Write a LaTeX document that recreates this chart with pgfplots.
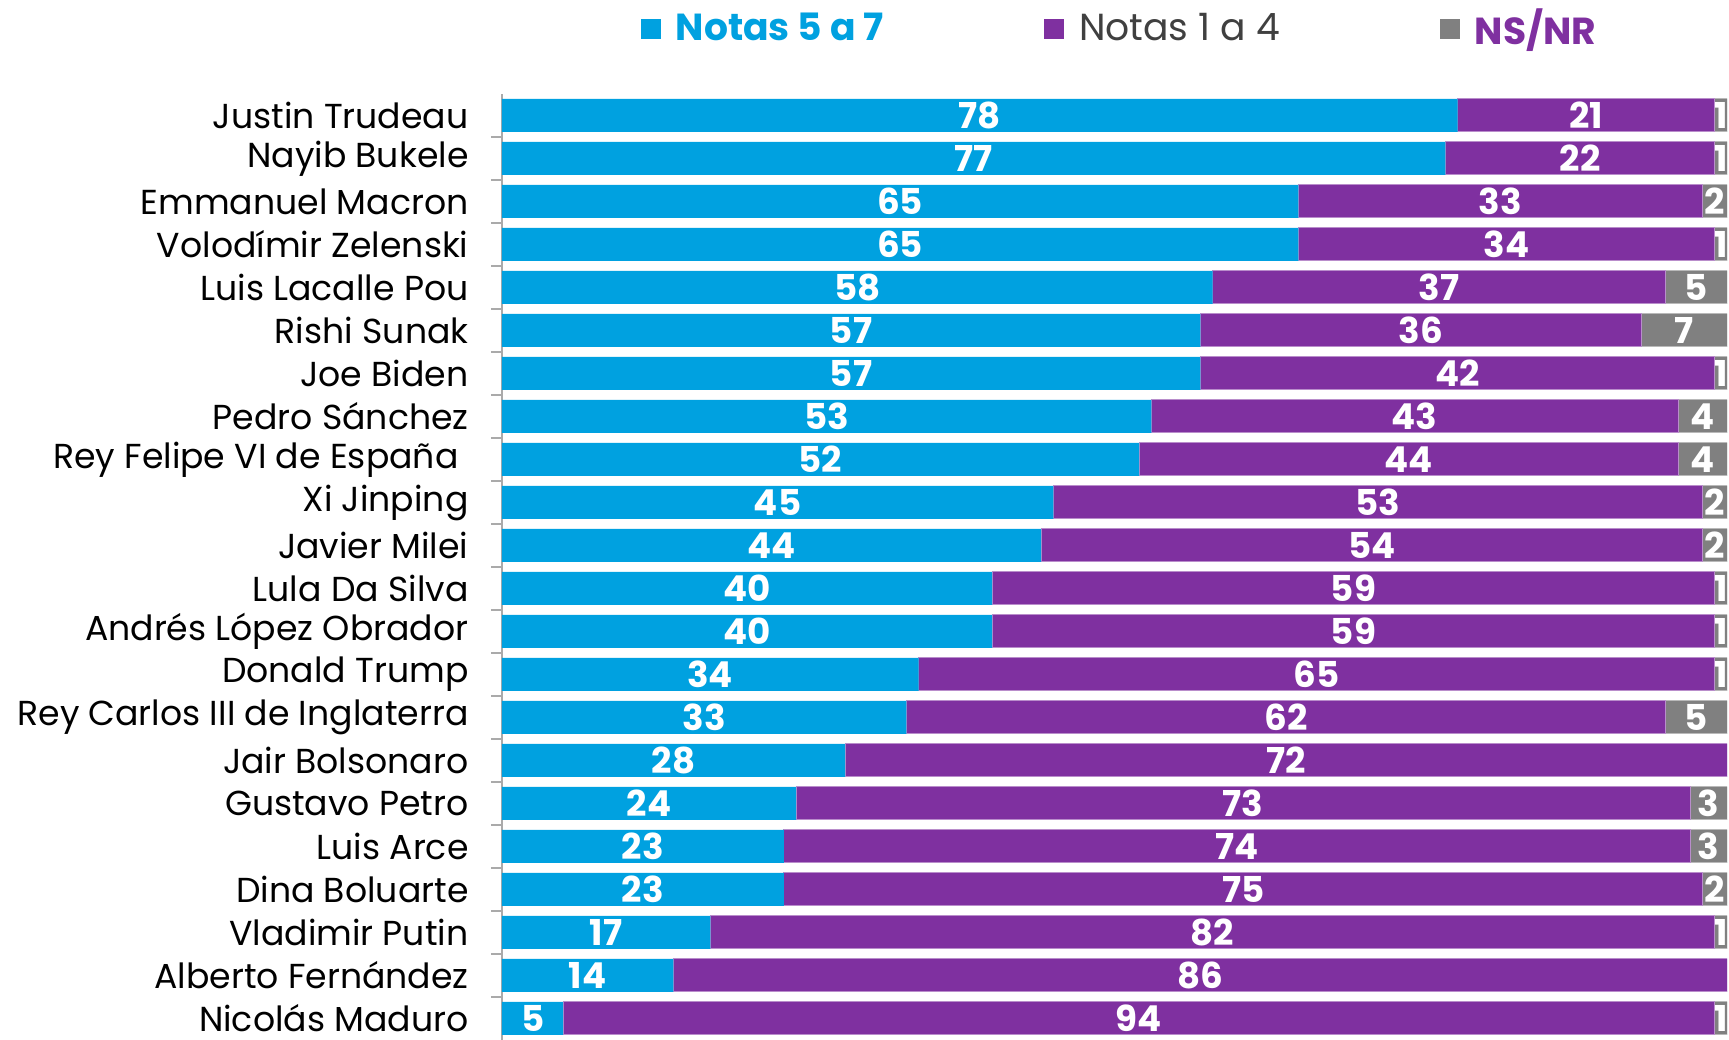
\documentclass[border=0pt]{standalone}
\usepackage{pgfplots}
\pgfplotsset{compat=1.18}
\usepackage{pgfplotstable}
\usepackage{fontspec}
\setmainfont{Poppins}
\definecolor{cblue}{RGB}{0,161,224}
\definecolor{cpurple}{RGB}{127,48,160}
\definecolor{cgray}{RGB}{128,128,128}
\definecolor{caxis}{RGB}{170,170,170}
\definecolor{ctext}{RGB}{64,64,64}

% i = row, a = Notas 5 a 7, b = Notas 1 a 4, c = NS/NR
\pgfplotstableread{
i a b c
0 78 21 1
1 77 22 1
2 65 33 2
3 65 34 1
4 58 37 5
5 57 36 7
6 57 42 1
7 53 43 4
8 52 44 4
9 45 53 2
10 44 54 2
11 40 59 1
12 40 59 1
13 34 65 1
14 33 62 5
15 28 72 0
16 24 73 3
17 23 74 3
18 23 75 2
19 17 82 1
20 14 86 0
21 5 94 1
}\notas

\begin{document}
\begin{tikzpicture}
\begin{axis}[
name=ax,
scale only axis,
width=367.5pt, height=283.8pt,
xbar stacked, bar width=9.9pt,
xmin=0, xmax=100, ymin=-0.5, ymax=21.5,
y dir=reverse,
axis x line=none,
axis y line*=left,
axis line style={caxis, line width=0.6pt},
ytick={0,...,21},
yticklabels={Justin Trudeau, Nayib Bukele, Emmanuel Macron, Volodímir Zelenski,
  Luis Lacalle Pou, Rishi Sunak, Joe Biden, Pedro Sánchez,
  Rey Felipe VI de España\rule{3pt}{0pt},
  Xi Jinping, Javier Milei, Lula Da Silva, Andrés López Obrador, Donald Trump,
  Rey Carlos III de Inglaterra, Jair Bolsonaro, Gustavo Petro, Luis Arce,
  Dina Boluarte, Vladimir Putin, Alberto Fernández, Nicolás Maduro},
major tick length=0pt,
extra y ticks={0.5,1.5,...,20.5},
extra y tick labels={},
extra y tick style={major tick length=3.3pt, tick align=outside,
  tick style={caxis, line width=0.6pt}},
tick label style={font=\fontsize{10.4}{13}\selectfont},
yticklabel style={xshift=-6.5pt},
/pgf/number format/assume math mode=true,
point meta=explicit,
nodes near coords={\pgfmathfloatifflags{\pgfplotspointmeta}{0}{}{\pgfmathprintnumber{\pgfplotspointmeta}}},
every node near coord/.append style={font=\fontsize{10.7}{13}\selectfont\bfseries,
  text=white, anchor=center},
legend style={at={(0.506,1)}, anchor=center, yshift=19.4pt, draw=none,
  legend columns=3, font=\fontsize{11.3}{13}\selectfont,
  /tikz/every even column/.append style={column sep=46pt},
  /tikz/every odd column/.append style={column sep=2.5pt}},
legend image code/.code={\fill[#1,draw=none] (0pt,-3pt) rectangle (6pt,3pt);},
]
\addplot[fill=cblue, draw=none]
  table[x=a, y=i, meta=a] {\notas};
\addlegendentry{\textcolor{cblue}{\bfseries Notas 5 a 7}}
\addplot[fill=cpurple, draw=cpurple!55!white, line width=0.3pt]
  table[x=b, y=i, meta=b] {\notas};
\addlegendentry{\textcolor{ctext}{Notas 1 a 4}}
\addplot[fill=cgray, draw=cgray!55!white, line width=0.3pt]
  table[x=c, y=i, meta=c] {\notas};
\addlegendentry{\textcolor{cpurple}{\bfseries NS/NR}}
\end{axis}
\pgfresetboundingbox
\path (ax.north west) ++(-150.6pt,28.2pt) rectangle ++(518.7pt,-312pt);
\end{tikzpicture}
\end{document}
